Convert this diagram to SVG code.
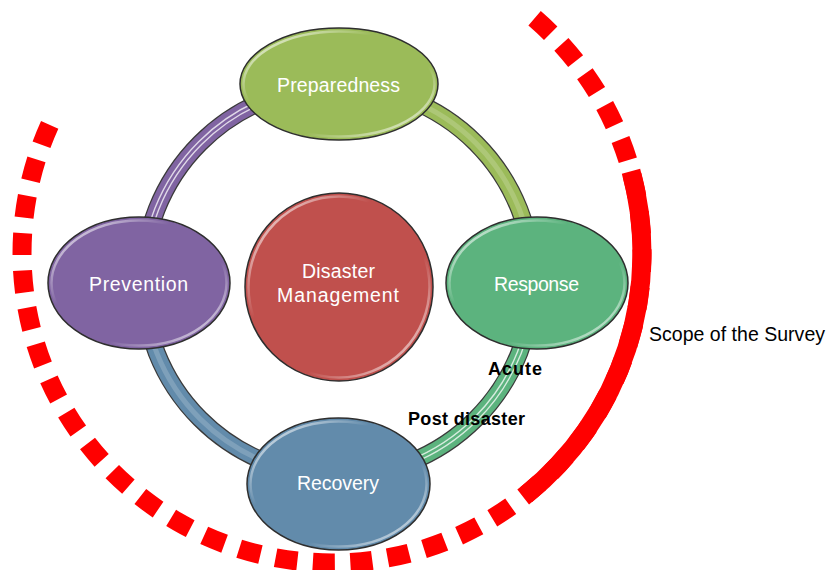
<svg xmlns="http://www.w3.org/2000/svg" width="830" height="570" viewBox="0 0 830 570">
  <defs>
    <linearGradient id="gloss" x1="0" y1="0" x2="1" y2="1">
      <stop offset="0" stop-color="#ffffff" stop-opacity="0.95"/>
      <stop offset="0.35" stop-color="#ffffff" stop-opacity="0"/>
      <stop offset="0.65" stop-color="#ffffff" stop-opacity="0"/>
      <stop offset="1" stop-color="#ffffff" stop-opacity="0.9"/>
    </linearGradient>
    <style>
      .node { stroke: #2e2e2e; stroke-width: 1.5; }
      .hl { fill: none; stroke: url(#gloss); stroke-width: 2.5; }
      .lbl { font-family: "Liberation Sans", Arial, sans-serif; font-size: 19.5px; fill: #ffffff; }
      .note { font-family: "Liberation Sans", Arial, sans-serif; font-size: 18px; font-weight: bold; fill: #000000; }
      .scope { font-family: "Liberation Sans", Arial, sans-serif; font-size: 19.5px; fill: #000000; }
      .seg-out { fill: none; stroke: #3a3a3a; stroke-width: 18; }
      .seg { fill: none; stroke-width: 15.5; }
      .stripe { fill: none; stroke: #ffffff; stroke-width: 1.4; stroke-opacity: 0.75; }
      .tube { fill: none; stroke: #ffffff; stroke-width: 5; stroke-opacity: 0.18; }
      .red { fill: none; stroke: #ff0000; stroke-width: 19; stroke-linecap: butt; }
    </style>
  </defs>
  <rect width="830" height="570" fill="#ffffff"/>

  <g id="scope-boundary">
    <path class="red" stroke-dasharray="22 15.5" d="M534.6,18.3 A310,310 0 1 1 49.7,124.9"/>
    <path class="red" d="M631,171.2 A310,310 0 0 1 526.2,494.6"/>
    <text class="scope" x="649" y="341" textLength="176" lengthAdjust="spacing">Scope of the Survey</text>
  </g>

  <g id="connectors">
    <g id="prevention-preparedness">
      <path class="seg-out" d="M143,281 A195,195 0 0 1 338,86"/>
      <path class="seg" stroke="#8064a2" d="M143,281 A195,195 0 0 1 338,86"/>
      <path class="stripe" stroke="#d9cceb" d="M141,281 A197,197 0 0 1 338,84"/>
      <path class="stripe" stroke="#d9cceb" d="M145,281 A193,193 0 0 1 338,88"/>
    </g>
    <g id="preparedness-response">
      <path class="seg-out" d="M338,86 A195,195 0 0 1 533,281"/>
      <path class="seg" stroke="#9bbb59" d="M338,86 A195,195 0 0 1 533,281"/>
      <path class="tube" d="M338,86 A195,195 0 0 1 533,281"/>
    </g>
    <g id="response-recovery">
      <path class="seg-out" d="M533,281 A195,195 0 0 1 338,476"/>
      <path class="seg" stroke="#5cb37e" d="M533,281 A195,195 0 0 1 338,476"/>
      <path class="stripe" d="M531,281 A193,193 0 0 1 338,474"/>
      <path class="stripe" d="M535,281 A197,197 0 0 1 338,478"/>
    </g>
    <g id="recovery-prevention">
      <path class="seg-out" d="M338,476 A195,195 0 0 1 143,281"/>
      <path class="seg" stroke="#628bab" d="M338,476 A195,195 0 0 1 143,281"/>
      <path class="tube" d="M338,476 A195,195 0 0 1 143,281"/>
    </g>
    <text class="note" x="488" y="375" textLength="54" lengthAdjust="spacing">Acute</text>
    <text class="note" x="408" y="425" textLength="117" lengthAdjust="spacing">Post disaster</text>
  </g>

  <g id="preparedness">
    <ellipse class="node" cx="339" cy="84" rx="99" ry="56" fill="#9bbb59"/>
    <ellipse class="hl" cx="339" cy="84" rx="95.5" ry="52.5"/>
    <text class="lbl" x="277" y="92" textLength="123" lengthAdjust="spacing">Preparedness</text>
  </g>

  <g id="prevention">
    <ellipse class="node" cx="139" cy="283" rx="91" ry="66" fill="#8064a2"/>
    <ellipse class="hl" cx="139" cy="283" rx="87.5" ry="62.5"/>
    <text class="lbl" x="89" y="291" textLength="99" lengthAdjust="spacing">Prevention</text>
  </g>

  <g id="response">
    <ellipse class="node" cx="537" cy="283" rx="91" ry="66" fill="#5cb37e"/>
    <ellipse class="hl" cx="537" cy="283" rx="87.5" ry="62.5"/>
    <text class="lbl" x="494" y="291" textLength="85" lengthAdjust="spacing">Response</text>
  </g>

  <g id="recovery">
    <ellipse class="node" cx="338.5" cy="484" rx="91.5" ry="66" fill="#628bab"/>
    <ellipse class="hl" cx="338.5" cy="484" rx="88" ry="62.5"/>
    <text class="lbl" x="297" y="490" textLength="82" lengthAdjust="spacing">Recovery</text>
  </g>

  <g id="disaster-management">
    <circle class="node" cx="339" cy="287" r="94" fill="#c0504d"/>
    <circle class="hl" cx="339" cy="287" r="90.5"/>
    <text class="lbl" x="302" y="278" textLength="73" lengthAdjust="spacing">Disaster</text>
    <text class="lbl" x="277" y="302" textLength="122" lengthAdjust="spacing">Management</text>
  </g>
</svg>
